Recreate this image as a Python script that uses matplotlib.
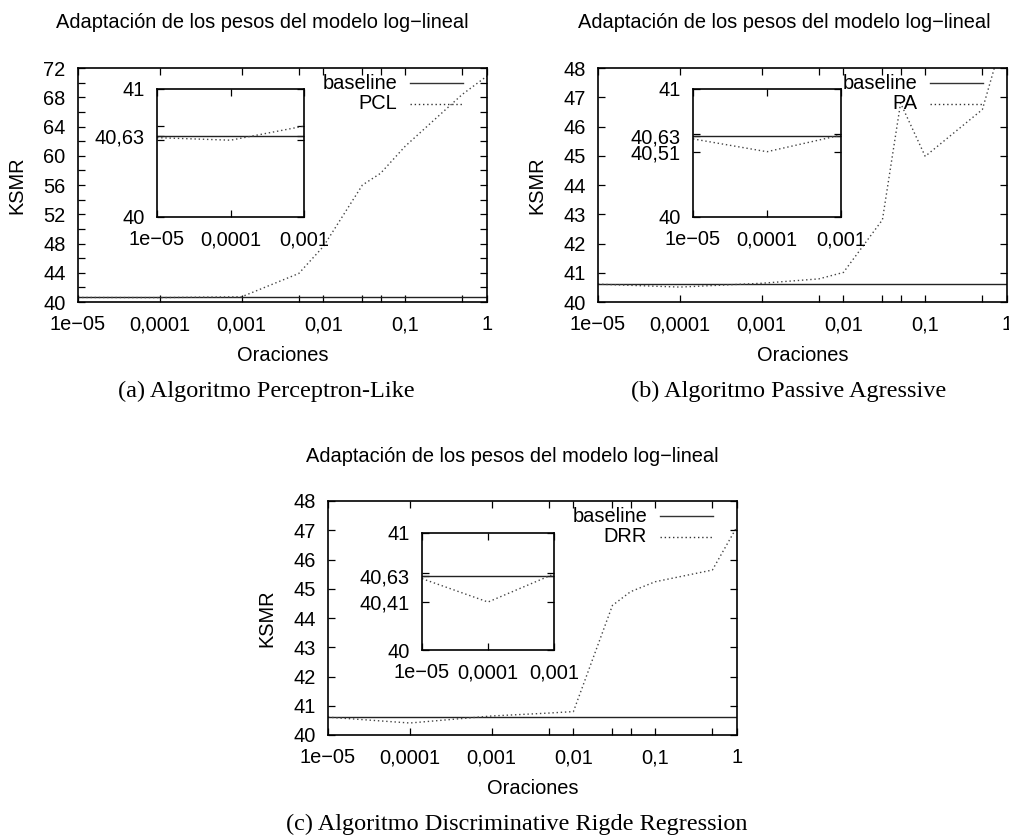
import matplotlib
matplotlib.use('Agg')
import matplotlib.pyplot as plt
from matplotlib.ticker import FixedLocator, FixedFormatter, NullFormatter

plt.rcParams['font.family'] = ['Liberation Sans', 'DejaVu Sans']
plt.rcParams['font.size'] = 14.4

# data
oraciones = [1e-5, 1e-4, 1e-3, 5e-3, 1e-2, 3e-2, 5e-2, 0.1, 0.5, 1]
baseline = 40.63
pcl = [40.62, 40.60, 40.71, 43.9, 47.6, 56.0, 57.6, 61.3, 68.4, 70.9]
pa = [40.61, 40.51, 40.64, 40.79, 41.01, 42.81, 46.8, 44.98, 46.58, 49.5]
drr = [40.61, 40.41, 40.65, 40.75, 40.80, 44.43, 44.9, 45.24, 45.64, 47.12]

xticks = [1e-5, 1e-4, 1e-3, 1e-2, 1e-1, 1]
xlabels = ['1e\u221205', '0,0001', '0,001', '0,01', '0,1', '1']
xminor = [5e-3, 3e-2, 5e-2, 0.5]
title = 'Adaptaci\u00f3n de los pesos del modelo log\u2212lineal'

W, H = 1009, 836
fig = plt.figure(figsize=(W / 100, H / 100), dpi=100)


def px(l, t, r, b):
    return [l / W, 1 - b / H, (r - l) / W, (b - t) / H]


def style(ax):
    for s in ax.spines.values():
        s.set_linewidth(1.2)
    ax.tick_params(which='both', direction='in', top=True, right=True,
                   length=5, width=0.9, colors='black')
    ax.tick_params(axis='x', pad=9.5)
    ax.tick_params(axis='y', pad=9)


def panel(main_box, inset_box, name, vals, ymax, ymajor, yminor,
          inset_ticks, inset_labels, inset_minor):
    ax = fig.add_axes(px(*main_box))
    ax.set_xscale('log')
    ax.axhline(baseline, color='#222222', lw=1.0)
    ax.plot(oraciones, vals, color='#444444', lw=1.0, linestyle=(0, (1, 2)))
    ax.set_xlim(1e-5, 1)
    ax.set_ylim(40, ymax)
    ax.xaxis.set_major_locator(FixedLocator(xticks))
    ax.xaxis.set_major_formatter(FixedFormatter(xlabels))
    ax.xaxis.set_minor_locator(FixedLocator(xminor))
    ax.xaxis.set_minor_formatter(NullFormatter())
    ax.yaxis.set_major_locator(FixedLocator(ymajor))
    ax.set_yticklabels([str(v) for v in ymajor])
    ax.yaxis.set_minor_locator(FixedLocator(yminor))
    style(ax)
    ax.set_ylabel('KSMR')
    ax.set_xlabel('Oraciones')
    ax.yaxis.set_label_coords(-0.125, 0.5)
    ax.xaxis.set_label_coords(0.5, -0.19)

    # legend, text right aligned like gnuplot
    for yy, lab, ls in [(0.935, 'baseline', '-'), (0.848, name, (0, (1, 2)))]:
        ax.text(0.78, yy, lab, transform=ax.transAxes, ha='right', va='center')
        ax.plot([0.812, 0.941], [yy, yy], transform=ax.transAxes,
                color='#333333', lw=1.0, linestyle=ls)

    ins = fig.add_axes(px(*inset_box))
    ins.set_xscale('log')
    ins.axhline(baseline, color='#222222', lw=1.0)
    ins.plot(oraciones, vals, color='#444444', lw=1.0, linestyle=(0, (1, 2)))
    ins.set_xlim(1e-5, 1e-3)
    ins.set_ylim(40, 41)
    ins.xaxis.set_major_locator(FixedLocator(xticks[:3]))
    ins.xaxis.set_major_formatter(FixedFormatter(xlabels[:3]))
    ins.xaxis.set_minor_locator(FixedLocator([]))
    ins.yaxis.set_major_locator(FixedLocator(inset_ticks))
    ins.yaxis.set_major_formatter(FixedFormatter(inset_labels))
    ins.yaxis.set_minor_locator(FixedLocator(inset_minor))
    style(ins)
    return ax


panel((78, 68, 487, 302), (157, 89, 304, 217), 'PCL', pcl, 72,
      list(range(40, 73, 4)), list(range(42, 72, 4)),
      [40, baseline, 41], ['40', '40,63', '41'], [40.60, 40.71])
panel((598, 68, 1007, 302), (693, 89, 841, 217), 'PA', pa, 48,
      list(range(40, 49)), [],
      [40, 40.51, baseline, 41], ['40', '40,51', '40,63', '41'], [40.65])
panel((328, 501, 737, 735), (422, 533, 554, 650), 'DRR', drr, 48,
      list(range(40, 49)), [],
      [40, 40.41, baseline, 41], ['40', '40,41', '40,63', '41'], [40.66])

for x, y in [(262, 23), (784, 23), (512, 457)]:
    fig.text(x / W, 1 - y / H, title, ha='center', va='center')

caps = [(266, 397, '(a) Algoritmo Perceptron-Like'),
        (789, 397, '(b) Algoritmo Passive Agressive'),
        (517, 830, '(c) Algoritmo Discriminative Rigde Regression')]
for x, y, t in caps:
    fig.text(x / W, 1 - y / H, t, ha='center', va='baseline', fontsize=17.5,
             family='Liberation Serif')

fig.savefig('out.png', dpi=100)
